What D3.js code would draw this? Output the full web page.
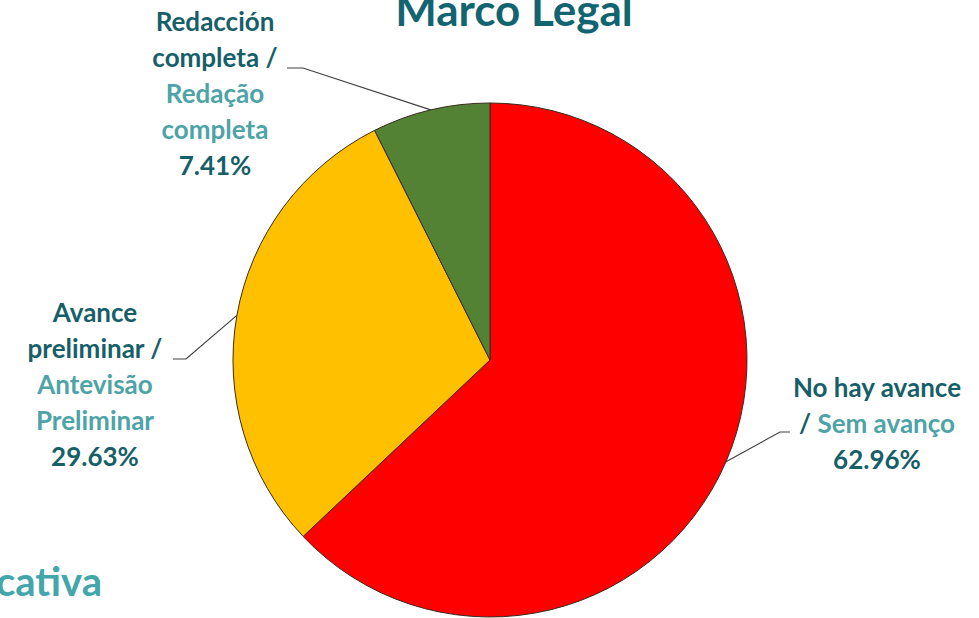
<!DOCTYPE html>
<html><head><meta charset="utf-8">
<script src="https://cdn.jsdelivr.net/npm/d3@7/dist/d3.min.js"></script>
<style>html,body{margin:0;padding:0;background:#fff;}svg{display:block;}</style>
</head><body>
<svg id="c" width="979" height="618"></svg>
<script>
const categories = ["No hay avance", "Avance preliminar", "Redacción completa"];
const values = [62.96, 29.63, 7.41];
const colors = ["#FF0000", "#FFC000", "#548235"];
const labelsES = [["No hay avance", "/ "], ["Avance", "preliminar /"], ["Redacción", "completa /"]];
const labelsPT = [["Sem avanço"], ["Antevisão", "Preliminar"], ["Redação", "completa"]];
const pctLabels = ["62.96%", "29.63%", "7.41%"];

const svg = d3.select("#c");
const cx = 490, cy = 360, R = 257;
const font = "Lato, 'Open Sans', sans-serif";
const dark = "#175F68", light = "#4DA3A6";

svg.append("text").attr("x", 514).attr("y", 26).attr("text-anchor", "middle")
  .attr("font-family", font).attr("font-weight", 700).attr("font-size", 44)
  .attr("fill", "#126570").text("Marco Legal");
svg.append("text").attr("x", 102).attr("y", 596).attr("text-anchor", "end")
  .attr("font-family", font).attr("font-weight", 700).attr("font-size", 40)
  .attr("fill", "#42A6AA").text("cativa");

const pie = d3.pie().sort(null).value(d => d)(values);
const arc = d3.arc().innerRadius(0).outerRadius(R);
const g = svg.append("g").attr("transform", `translate(${cx},${cy})`);
g.selectAll("path").data(pie).join("path")
  .attr("d", arc).attr("fill", (d, i) => colors[i])
  .attr("stroke", "#3a2a20").attr("stroke-width", 1);

const layout = [
  {tx: 877, ty: 388, elbow: [780, 432], hend: 790},
  {tx: 95, ty: 313, elbow: [186, 359], hend: 173},
  {tx: 215, ty: 22, elbow: [303, 68], hend: 287}
];
const fs = 26, lh = 36;
pie.forEach((d, i) => {
  const a = (d.startAngle + d.endAngle) / 2;
  const px = cx + R * Math.sin(a), py = cy - R * Math.cos(a);
  const L = layout[i];
  svg.append("polyline")
    .attr("points", `${px},${py} ${L.elbow[0]},${L.elbow[1]} ${L.hend},${L.elbow[1]}`)
    .attr("fill", "none").attr("stroke", "#404040").attr("stroke-width", 1.2);
  const t = svg.append("text").attr("text-anchor", "middle")
    .attr("font-family", font).attr("font-weight", 700).attr("font-size", fs);
  let lines = [];
  if (i === 0) {
    lines.push([[labelsES[0][0], dark]]);
    lines.push([[labelsES[0][1], dark], [labelsPT[0][0], light]]);
  } else {
    labelsES[i].forEach(s => lines.push([[s, dark]]));
    labelsPT[i].forEach(s => lines.push([[s, light]]));
  }
  lines.push([[pctLabels[i], dark]]);
  lines.forEach((ln, k) => {
    const tt = t.append("tspan").attr("x", L.tx).attr("y", L.ty + k * lh + 9);
    ln.forEach(([s, c], j) => {
      (j === 0 ? tt : t.append("tspan")).attr("fill", c).text(s);
    });
  });
});
</script>
</body></html>
